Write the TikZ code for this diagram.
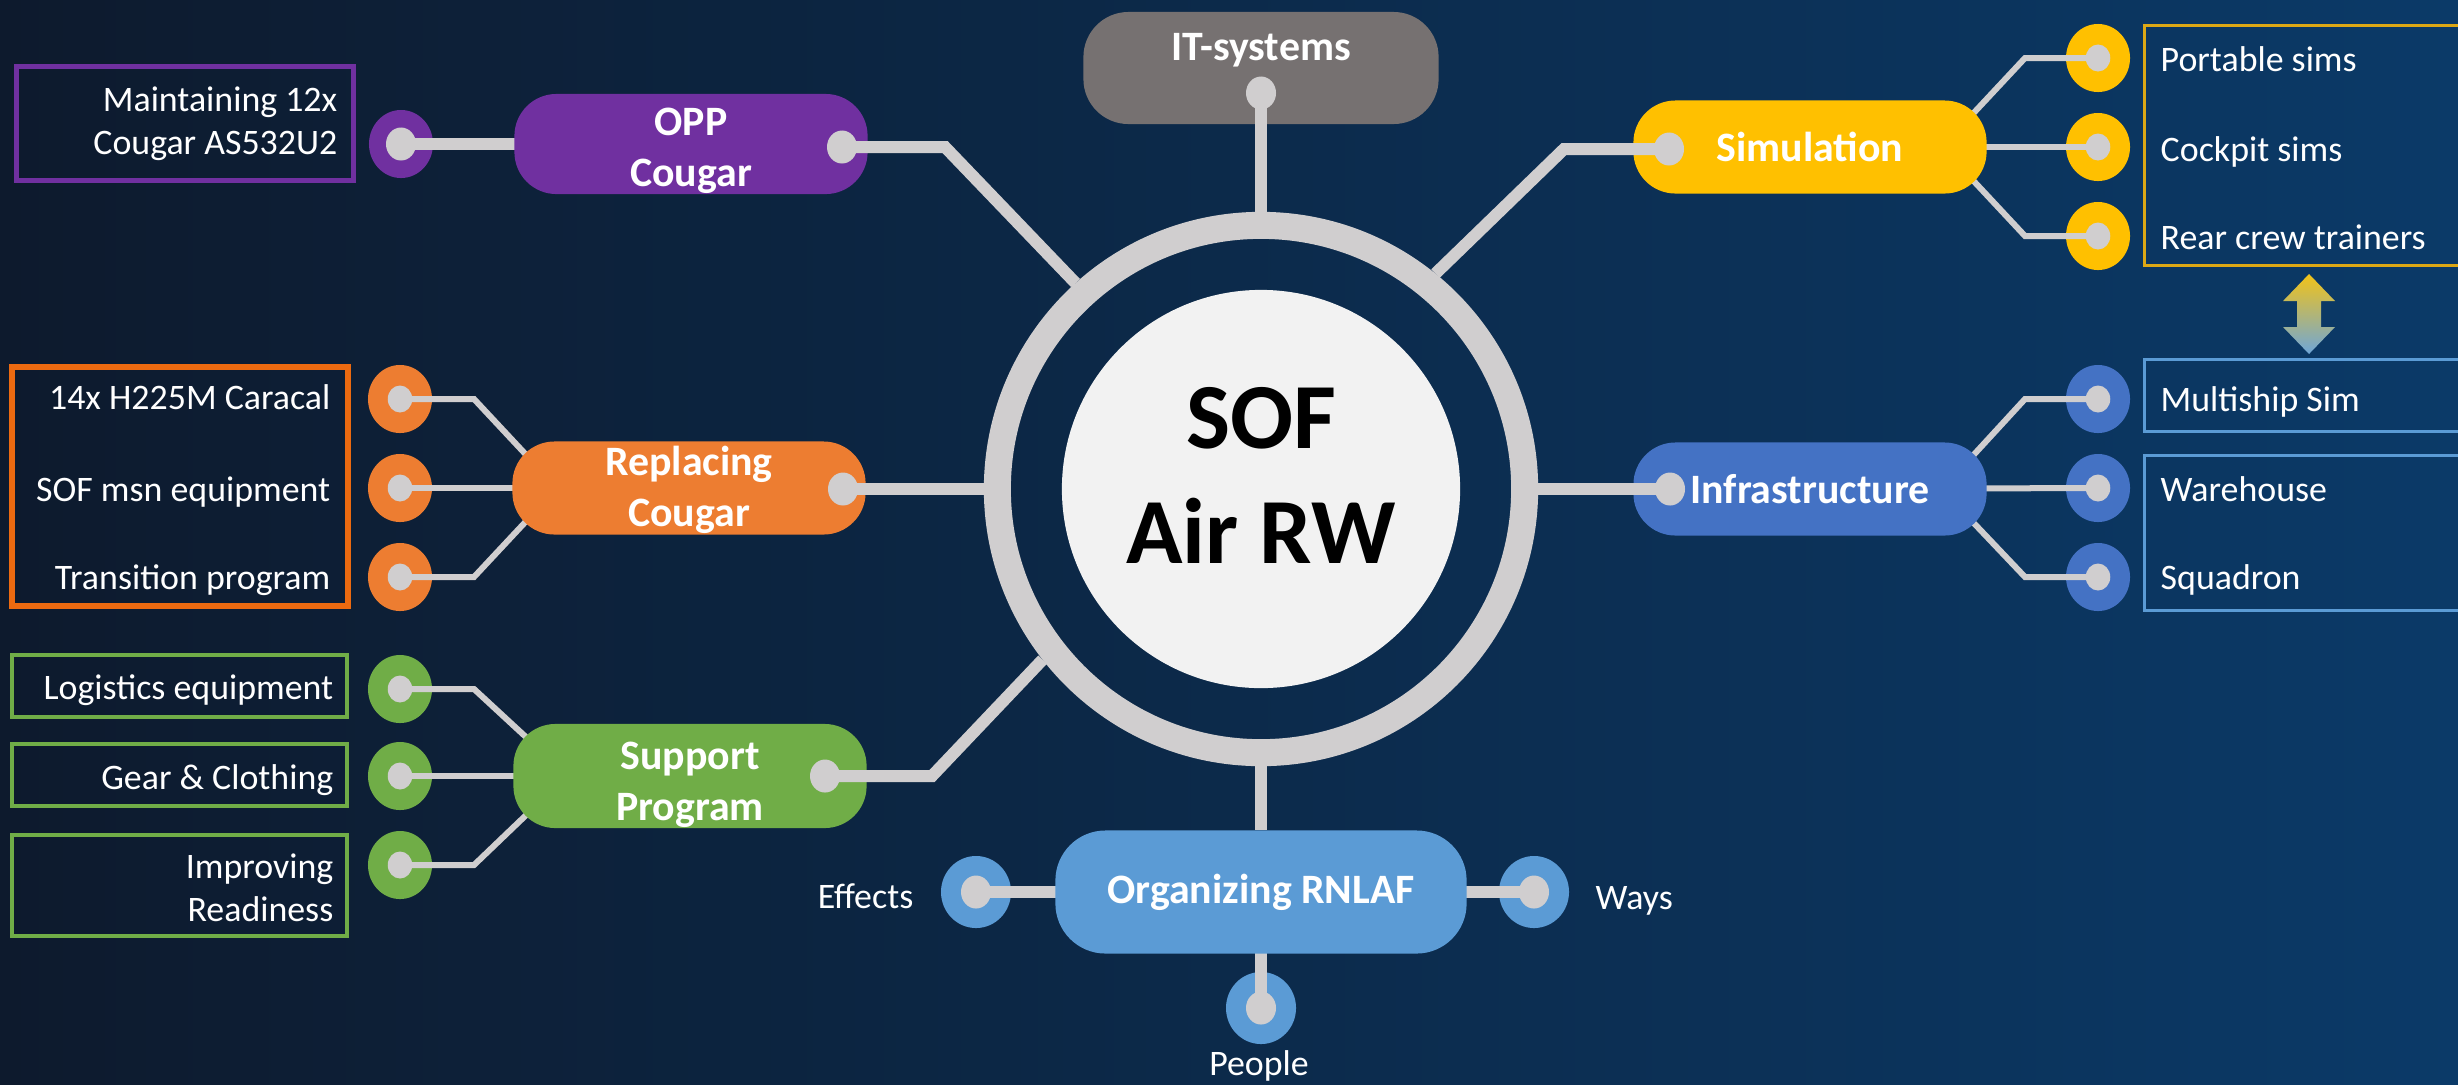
\documentclass[tikz,border=0pt]{standalone}
\usepackage{fontspec}
\setmainfont{Carlito}
\usetikzlibrary{shapes.geometric,calc}
\definecolor{bgleft}{HTML}{0D1A2D}
\definecolor{bgmid}{HTML}{102544}
\definecolor{bgright}{HTML}{0B3A68}
\definecolor{dotgray}{HTML}{D0CECF}
\definecolor{hubwhite}{HTML}{F2F2F2}
\definecolor{itgray}{HTML}{767171}
\definecolor{oppurple}{HTML}{7030A0}
\definecolor{simyel}{HTML}{FFC000}
\definecolor{simframe}{HTML}{DDA815}
\definecolor{repor}{HTML}{ED7D31}
\definecolor{orframe}{HTML}{EC6A10}
\definecolor{infblue}{HTML}{4472C4}
\definecolor{supgr}{HTML}{70AD47}
\definecolor{orgblue}{HTML}{5B9BD5}
\definecolor{arrowyel}{HTML}{F2C318}
\definecolor{arrowblue}{HTML}{6FA6D8}
\newcommand{\mainlbl}{\fontsize{11.9}{14.5}\selectfont\bfseries}
\newcommand{\leaflbl}{\fontsize{10.2}{12.2}\selectfont}
\newcommand{\hublbl}{\fontsize{26.5}{32.7}\selectfont\bfseries}
\pgfdeclarelayer{bgimg}
\pgfdeclarelayer{leafs}
\pgfdeclarelayer{links}
\pgfdeclarelayer{top}
\pgfsetlayers{bgimg,leafs,links,main,top}
\begin{document}
\begin{tikzpicture}[x=0.01cm,y=-0.01cm,
  pill/.style={rectangle, rounded corners=0.42cm, minimum width=3.53cm, minimum height=0.93cm, inner sep=0pt, text=white, font=\mainlbl, align=center},
  bigdot/.style={ellipse, fill=dotgray, minimum width=0.30cm, minimum height=0.33cm, inner sep=0pt},
  smalldot/.style={ellipse, fill=dotgray, minimum width=0.245cm, minimum height=0.27cm, inner sep=0pt},
  leafring/.style={ellipse, minimum width=0.64cm, minimum height=0.68cm, inner sep=0pt},
  orgring/.style={ellipse, fill=orgblue, minimum width=0.70cm, minimum height=0.72cm, inner sep=0pt},
  spoke/.style={draw=dotgray, line width=0.12cm},
  subline/.style={draw=dotgray, line width=0.06cm},
  leaftxt/.style={text=white, font=\leaflbl, inner sep=0pt, text height=0.26cm, text depth=0.07cm},
  leaftxtml/.style={text=white, font=\leaflbl, inner sep=0pt, align=right},
  frame/.style={rectangle, inner sep=0pt},
]
\useasboundingbox (0,0) rectangle (2458,1084);
\begin{pgfonlayer}{bgimg}
\shade[left color=bgleft, middle color=bgmid, right color=bgright] (0,0) rectangle (2458,1084);
\end{pgfonlayer}

% leaf ellipses
\begin{pgfonlayer}{leafs}
\node (mt) [leafring, fill=oppurple] at (401,144) {};
\node (o1) [leafring, fill=repor] at (400,399) {};
\node (o2) [leafring, fill=repor] at (400,488) {};
\node (o3) [leafring, fill=repor] at (400,577) {};
\node (g1) [leafring, fill=supgr] at (400,689) {};
\node (g2) [leafring, fill=supgr] at (400,776) {};
\node (g3) [leafring, fill=supgr] at (400,865) {};
\node (p1) [leafring, fill=simyel] at (2098,58) {};
\node (p2) [leafring, fill=simyel] at (2098,147) {};
\node (p3) [leafring, fill=simyel] at (2098,236) {};
\node (m1) [leafring, fill=infblue] at (2098,399) {};
\node (m2) [leafring, fill=infblue] at (2098,488) {};
\node (m3) [leafring, fill=infblue] at (2098,577) {};
\node (eff) [orgring] at (976,892) {};
\node (way) [orgring] at (1534,892) {};
\node (peo) [orgring] at (1261,1008) {};
\end{pgfonlayer}

% hub
\node (ring) [circle, draw=dotgray, line width=0.27cm, minimum size=5.27cm, inner sep=0pt] at (1261,489) {};
\node (hub) [circle, fill=hubwhite, minimum size=3.98cm, inner sep=0pt] at (1261,489) {};
\node (hubtxt) [font=\hublbl, align=center, inner sep=0pt] at (1261,475) {SOF\\Air RW};

% main boxes
\node (it) [pill, fill=itgray, minimum width=3.55cm, minimum height=1.12cm, rounded corners=0.45cm] at (1261,68) {};
\node (itlbl) [text=white, font=\mainlbl, inner sep=0pt] at (1261,50) {IT-systems};
\node (opp) [pill, fill=oppurple] at (691,144) {\rule{0pt}{0.42cm}OPP\\Cougar};
\node (sim) [pill, fill=simyel] at (1810,147) {Simulation};
\node (rep) [pill, fill=repor] at (689,488) {\rule{0pt}{0.34cm}Replacing\\Cougar};
\node (inf) [pill, fill=infblue] at (1810,489) {Infrastructure};
\node (sup) [pill, fill=supgr] at (690,776) {\rule{0pt}{0.46cm}Support\\Program};
\node (org) [pill, fill=orgblue, minimum width=4.11cm, minimum height=1.23cm, rounded corners=0.5cm] at (1261,892) {Organizing RNLAF};

% gray dots (top layer)
\begin{pgfonlayer}{top}
\node (itd) [bigdot] at (1261,93) {};
\node (opd) [bigdot] at (842,147) {};
\node (sid) [bigdot] at (1669,149) {};
\node (red) [bigdot] at (843,489) {};
\node (ind) [bigdot] at (1670,489) {};
\node (sud) [bigdot] at (825,776) {};
\node (mtd) [bigdot] at (mt) {};
\node (effd) [bigdot] at (eff) {};
\node (wayd) [bigdot] at (way) {};
\node (peod) [bigdot] at (peo) {};
\foreach \n in {o1,o2,o3,g1,g2,g3,p1,p2,p3,m1,m2,m3}
  \node (\n d) [smalldot] at (\n) {};
\end{pgfonlayer}

% corner coordinates
\coordinate (oc) at (945,147);
\coordinate (sc) at (1564,149);
\coordinate (uc) at (932,776);
\coordinate (sc1) at (2025,58);
\coordinate (sc3) at (2025,236);
\coordinate (ic1) at (2025,399);
\coordinate (ic3) at (2025,577);
\coordinate (rc1) at (474,399);
\coordinate (rc3) at (474,577);
\coordinate (gc1) at (474,689);
\coordinate (gc3) at (474,865);

% main spokes
\draw[spoke] (itd.center) -- (ring.90);
\draw[spoke] (opd.center) -- (oc) -- (ring.132);
\draw[spoke] (sid.center) -- (sc) -- (ring.51);
\draw[spoke] (red.center) -- (ring.180);
\draw[spoke] (ind.center) -- (ring.0);
\draw[spoke] (sud.center) -- (uc) -- (ring.218);
\draw[spoke] (ring.270) -- (org.north);

% sub connectors
\begin{pgfonlayer}{links}
\draw[spoke] (mt.center) -- (opp.center);
\draw[spoke] (eff.center) -- (org.center);
\draw[spoke] (way.center) -- (org.center);
\draw[spoke] (peo.center) -- (org.center);
\draw[subline] ([shift={(-20,20)}]sim.north east) -- (sc1) -- (p1.center);
\draw[subline] (sim.center) -- (p2.center);
\draw[subline] ([shift={(-20,-20)}]sim.south east) -- (sc3) -- (p3.center);
\draw[subline] ([shift={(-20,20)}]inf.north east) -- (ic1) -- (m1.center);
\draw[subline] (inf.center) -- (m2.center);
\draw[subline] ([shift={(-20,-20)}]inf.south east) -- (ic3) -- (m3.center);
\draw[subline] ([shift={(20,20)}]rep.north west) -- (rc1) -- (o1.center);
\draw[subline] (rep.center) -- (o2.center);
\draw[subline] ([shift={(20,-20)}]rep.south west) -- (rc3) -- (o3.center);
\draw[subline] ([shift={(20,20)}]sup.north west) -- (gc1) -- (g1.center);
\draw[subline] (sup.center) -- (g2.center);
\draw[subline] ([shift={(20,-20)}]sup.south west) -- (gc3) -- (g3.center);
\end{pgfonlayer}

% frames
\node (mtframe) [frame, draw=oppurple, line width=0.05cm, minimum width=3.37cm, minimum height=1.14cm] at (185,123.5) {};
\node (orframe) [frame, draw=orframe, line width=0.06cm, minimum width=3.36cm, minimum height=2.39cm] at (180,486.5) {};
\node (lgframe) [frame, draw=supgr, line width=0.035cm, minimum width=3.35cm, minimum height=0.62cm] at (179.5,686) {};
\node (gcframe) [frame, draw=supgr, line width=0.035cm, minimum width=3.35cm, minimum height=0.62cm] at (179.5,775) {};
\node (irframe) [frame, draw=supgr, line width=0.035cm, minimum width=3.35cm, minimum height=1.01cm] at (179.5,885.5) {};
\node (simframe) [frame, draw=simframe, line width=0.03cm, minimum width=3.6cm, minimum height=2.40cm, anchor=west] at (2142.5,145.5) {};
\node (msframe) [frame, draw=orgblue, line width=0.03cm, minimum width=3.6cm, minimum height=0.72cm, anchor=west] at (2142.5,395.5) {};
\node (whframe) [frame, draw=orgblue, line width=0.03cm, minimum width=3.6cm, minimum height=1.55cm, anchor=west] at (2142.5,533) {};

% leaf texts
\node (mttxt) [leaftxtml, anchor=east] at (338,123.5) {Maintaining 12x\\Cougar AS532U2};
\node (t1) [leaftxt, anchor=east] at (331,400) {14x H225M Caracal};
\node (t2) [leaftxt, anchor=east] at (331,492) {SOF msn equipment};
\node (t3) [leaftxt, anchor=east] at (331,580) {Transition program};
\node (t4) [leaftxt, anchor=east] at (334,690) {Logistics equipment};
\node (t5) [leaftxt, anchor=east] at (334,780) {Gear \& Clothing};
\node (t6) [leaftxtml, anchor=east] at (334,888) {Improving\\Readiness};
\node (t7) [leaftxt, anchor=west] at (2160,62) {Portable sims};
\node (t8) [leaftxt, anchor=west] at (2160,152) {Cockpit sims};
\node (t9) [leaftxt, anchor=west] at (2160,240) {Rear crew trainers};
\node (t10) [leaftxt, anchor=west] at (2160,402) {Multiship Sim};
\node (t11) [leaftxt, anchor=west] at (2160,492) {Warehouse};
\node (t12) [leaftxt, anchor=west] at (2160,580) {Squadron};
\node (t13) [leaftxt, anchor=east] at (914,899) {Effects};
\node (t14) [leaftxt, anchor=west] at (1595,900) {Ways};
\node (t15) [leaftxt] at (1259,1066) {People};

% double arrow
\shade[top color=arrowyel, bottom color=arrowblue]
  (2309,274) -- (2335,301) -- (2321,301) -- (2321,327) -- (2335,327) -- (2309,354)
  -- (2283,327) -- (2297,327) -- (2297,301) -- (2283,301) -- cycle;
\end{tikzpicture}
\end{document}
